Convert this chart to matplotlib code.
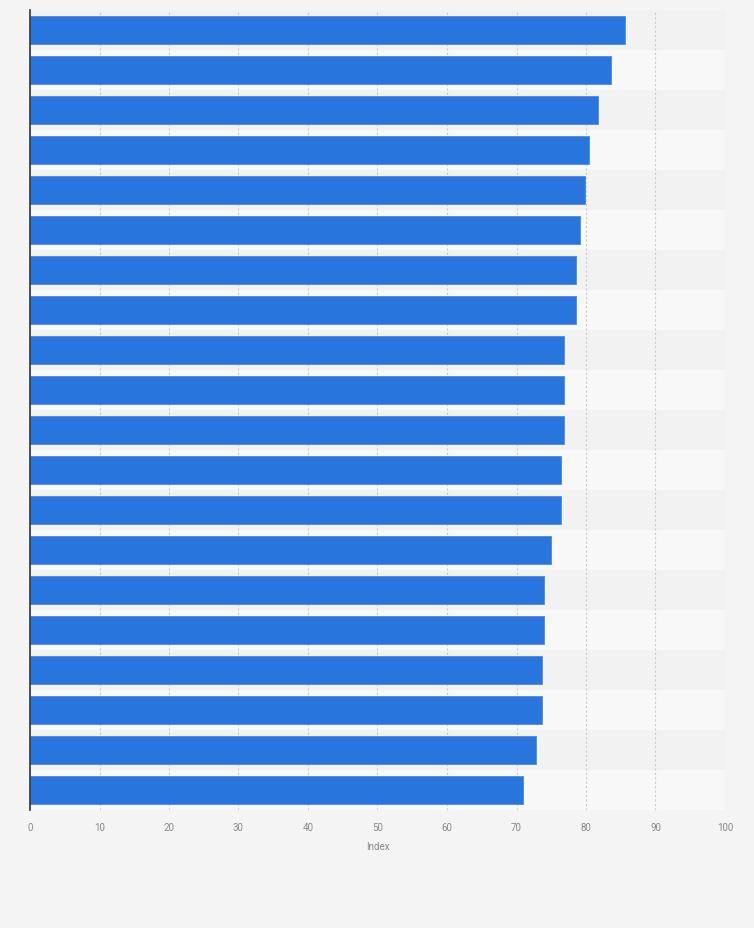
import numpy as np
import matplotlib
matplotlib.use("Agg")
import matplotlib.pyplot as plt

plt.rcParams['font.family'] = ['Roboto', 'DejaVu Sans']

# -- Data ---------------------------------------------------------------------
# the reference shows no category names, only the bars
ranks = list(range(1, 21))
values = [85.6, 83.6, 81.7, 80.4, 79.8, 79.1, 78.5, 78.5, 76.8, 76.8,
          76.8, 76.4, 76.4, 75.0, 74.0, 73.9, 73.6, 73.6, 72.8, 70.9]
xticks = [0, 10, 20, 30, 40, 50, 60, 70, 80, 90, 100]

# -- Plot ---------------------------------------------------------------------
bg = '#f4f4f4'
fig = plt.figure(figsize=(7.54, 9.29), dpi=100, facecolor=bg)
ax = fig.add_axes([30 / 754, 1 - 811 / 929, 695 / 754, 800 / 929])
ax.set_facecolor(bg)

n = len(ranks)
ypos = np.arange(n)

# alternating row bands
for i in ypos:
    ax.axhspan(i - 0.5, i + 0.5, color='#f2f2f2' if i % 2 == 0 else '#f8f8f8',
               zorder=0, lw=0)

ax.barh(ypos, values, height=0.7, color='#2775dd', edgecolor='#4a8ae3',
        linewidth=0.6, zorder=3)

ax.set_xlim(0, 100)
ax.set_ylim(n - 0.5, -0.5)
ax.set_xticks(xticks)
ax.set_xticklabels([str(t) for t in xticks], fontsize=7, color='#888888')
ax.set_yticks([])
ax.tick_params(axis='x', length=0, pad=9)
ax.xaxis.grid(True, linestyle=(0, (2, 2)), color='#cccccc', linewidth=0.8, zorder=1)
ax.set_axisbelow(True)

for side in ['top', 'right', 'bottom']:
    ax.spines[side].set_visible(False)
ax.spines['left'].set_color('#333333')
ax.spines['left'].set_linewidth(1.2)
ax.spines['left'].set_zorder(4)

ax.set_xlabel('Index', fontsize=7, color='#888888', labelpad=6)

fig.savefig('out.png', dpi=100, facecolor=bg)
